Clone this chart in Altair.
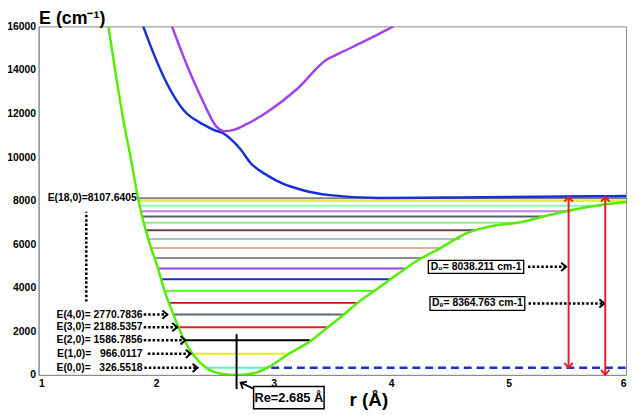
import altair as alt
import pandas as pd

# ---------------- data ----------------
# ground state potential (green)
g_r = [1.594, 1.655, 1.724, 1.793, 1.848, 1.931, 2.014, 2.070, 2.153, 2.235, 2.318,
       2.429, 2.567, 2.685, 2.843, 2.982, 3.134, 3.313, 3.465, 3.589, 3.728, 3.866,
       4.004, 4.115, 4.226, 4.42, 4.64, 4.85, 5.11, 5.33, 5.55, 5.83, 6.0]
g_E = [16000, 13867, 11633, 9698, 8058, 6270, 4929, 3888, 2695, 1654, 907,
       313, 40, 0, 89, 433, 983, 1550, 2203, 2726, 3365, 3888,
       4430, 4850, 5250, 5823, 6494, 6823, 7016, 7316, 7584, 7834, 7941]
# excited state (blue)
b_r = [1.89, 1.99, 2.09, 2.235, 2.40, 2.50, 2.56, 2.64, 2.72, 2.80, 2.95, 3.07,
       3.25, 3.48, 3.89, 4.45, 5.0, 5.72, 6.0]
b_E = [16000, 14600, 13400, 12150, 11500, 11230, 11120, 10800, 10350, 9750, 9150,
       8800, 8480, 8254, 8120, 8140, 8170, 8200, 8210]
# excited state (purple)
p_r = [2.135, 2.26, 2.40, 2.51, 2.58, 2.66, 2.76, 2.95, 3.20, 3.45, 3.56, 3.76, 4.02]
p_E = [16000, 14250, 12550, 11420, 11186, 11250, 11485, 12080, 13125, 14466, 14761,
       15284, 16000]

# vibrational levels v = 0..18
lv_E = [326.55, 966.01, 1586.79, 2188.54, 2770.78, 3307, 3857, 4393, 4885, 5363,
        5823, 6243, 6645, 6985, 7271, 7508, 7762, 7986, 8107.64]
lv_left = [2.43, 2.32, 2.24, 2.19, 2.15, 2.105, 2.07, 2.035, 2.01, 1.985, 1.955,
           1.935, 1.915, 1.9, 1.888, 1.876, 1.864, 1.853, 1.845]
lv_right = [2.96, 3.13, 3.31, 3.46, 3.595, 3.714, 3.852, 3.996, 4.115, 4.267, 4.419,
            4.59, 4.715, 5.055, 5.29, 5.53, 5.8, 6.0, 6.0]
lv_colors = ["#5ef2c4", "#e6ec1c", "#000000", "#e8201c", "#5a6878", "#c01820",
             "#4cf01a", "#1030c8", "#a040e0", "#8c8c8c", "#dcb090", "#b4bcc4",
             "#6c4050", "#90ec90", "#5c5c6c", "#c080f0", "#90f0d0", "#e4f040", "#808080"]

# left labels
lab_text = ["E(4,0)= 2770.7836", "E(3,0)= 2188.5357", "E(2,0)= 1586.7856",
            "E(1,0)=\u00a0\u00a0\u00a0966.0117", "E(0,0)=\u00a0\u00a0\u00a0326.5518"]
lab_E = [2770.78, 2188.54, 1586.79, 966.01, 326.55]
lab_r = [1.885, 1.885, 1.885, 1.885, 1.885]
arr_r1 = [1.895, 1.895, 1.895, 1.93, 1.90]
arr_r2 = [2.096, 2.18, 2.25, 2.295, 2.353]

top_text = ["E(18,0)=8107.6405"]
top_r = [1.835]
top_E = [8107.64]
dots_r = [1.406]
dots_E1 = [3365]
dots_E2 = [7490]

# dissociation annotations
d_text = ["D\u2080= 8038.211 cm-1", "D\u2091= 8364.763 cm-1"]
d_r1 = [4.317, 4.331]
d_r2 = [5.129, 5.138]
d_E = [4960, 3280]
d_h = [300, 313]
d_arr1 = [5.165, 5.17]
d_arr2 = [5.49, 5.815]
red_r = [5.511, 5.823]
red_lo = [326.55, 0]
red_hi = [8180, 8180]
dash_r1 = [2.98]
dash_r2 = [6.0]
dash_E = [326.55]

# equilibrium distance
re_r = [2.685]
re_E1 = [1870]
re_E2 = [-650]
re_text = ["Re=2.685 \u00c5"]
re_box_r = [2.83, 3.43]
re_box_E = [-536, -1551]
re_arr_r = [2.826, 2.719]
re_arr_E = [-626, -357]

# ---------------- chart ----------------
FONT = "Liberation Sans"
xs = alt.Scale(domain=[1, 6], nice=False, zero=False)
ys = alt.Scale(domain=[0, 16000], nice=False, zero=False)

x_axis = alt.Axis(values=[1, 2, 3, 4, 5, 6], format="d", grid=False, ticks=False,
                  domainColor="#8a8a8a", labelFont=FONT, labelFontWeight="bold",
                  labelFontSize=10.5, labelColor="black", labelPadding=4,
                  title="r (\u00c5)", titleFont=FONT, titleFontSize=19,
                  titleFontWeight="bold", titleColor="black", titleX=334, titleY=31,
                  titleBaseline="alphabetic")
y_axis = alt.Axis(values=list(range(0, 16001, 2000)), format="d", grid=False,
                  ticks=False, domainColor="#8a8a8a", labelFont=FONT,
                  labelFontWeight="bold", labelFontSize=10.5, labelColor="black",
                  labelPadding=3, title="E (cm\u207b\u00b9)", titleFont=FONT,
                  titleFontSize=18, titleFontWeight="bold", titleColor="black",
                  titleAngle=0, titleAlign="left", titleBaseline="alphabetic",
                  titleX=0, titleY=-3)


def X(f):
    return alt.X(f, type="quantitative", scale=xs, axis=x_axis)


def Y(f):
    return alt.Y(f, type="quantitative", scale=ys, axis=y_axis)


CHEV = "M-1.2,-1L0,0L-1.2,1"

curves = pd.concat([
    pd.DataFrame({"r": g_r, "E": g_E, "c": "#55ee00", "k": "g"}),
    pd.DataFrame({"r": b_r, "E": b_E, "c": "#1a2fd6", "k": "b"}),
    pd.DataFrame({"r": p_r, "E": p_E, "c": "#a040f0", "k": "p"}),
])
curve_layer = alt.Chart(curves).mark_line(strokeWidth=2.5, clip=True, interpolate="monotone").encode(
    x=X("r"), y=Y("E"), color=alt.Color("c:N", scale=None), detail="k:N")

levels = pd.DataFrame({"r1": lv_left, "r2": lv_right, "E": lv_E, "c": lv_colors})
level_layer = alt.Chart(levels).mark_rule(strokeWidth=2).encode(
    x=X("r1"), x2="r2", y=Y("E"), color=alt.Color("c:N", scale=None))

dash_layer = alt.Chart(pd.DataFrame({"r1": dash_r1, "r2": dash_r2, "E": dash_E})).mark_rule(
    strokeWidth=2.5, strokeDash=[8, 5], color="#1a2fd6").encode(x=X("r1"), x2="r2", y=Y("E"))

re_line = alt.Chart(pd.DataFrame({"r": re_r, "E1": re_E1, "E2": re_E2})).mark_rule(
    strokeWidth=2, color="black", clip=False).encode(x=X("r"), y=Y("E1"), y2="E2")

dots_layer = alt.Chart(pd.DataFrame({"r": dots_r, "E1": dots_E1, "E2": dots_E2})).mark_rule(
    strokeWidth=2.5, strokeDash=[2.5, 2], color="black").encode(x=X("r"), y=Y("E1"), y2="E2")

labs = pd.DataFrame({"t": lab_text, "E": lab_E, "r": lab_r, "r1": arr_r1, "r2": arr_r2})
lab_text_layer = alt.Chart(labs).mark_text(align="right", baseline="middle", font=FONT,
                                           fontWeight="bold", fontSize=10.5, color="black").encode(
    x=X("r"), y=Y("E"), text="t:N")
lab_arrow_layer = alt.Chart(labs).mark_rule(strokeWidth=2.5, strokeDash=[2.5, 2], color="black").encode(
    x=X("r1"), x2="r2", y=Y("E"))
lab_head_layer = alt.Chart(labs).mark_point(shape=CHEV, filled=False, size=70, strokeWidth=2,
                                            opacity=1, color="black").encode(x=X("r2"), y=Y("E"))

top_layer = alt.Chart(pd.DataFrame({"t": top_text, "r": top_r, "E": top_E})).mark_text(
    align="right", baseline="middle", font=FONT, fontWeight="bold", fontSize=10.5,
    color="black").encode(x=X("r"), y=Y("E"), text="t:N")

dd = pd.DataFrame({"t": d_text, "r1": d_r1, "r2": d_r2, "E": d_E,
                   "lo": [e - h for e, h in zip(d_E, d_h)], "hi": [e + h for e, h in zip(d_E, d_h)],
                   "rc": [(a + b) / 2 for a, b in zip(d_r1, d_r2)], "a1": d_arr1, "a2": d_arr2})
d_box = alt.Chart(dd).mark_rect(fill="white", stroke="black", strokeWidth=1.3).encode(
    x=X("r1"), x2="r2", y=Y("lo"), y2="hi")
d_txt = alt.Chart(dd).mark_text(align="center", baseline="middle", font=FONT, fontWeight="bold",
                                fontSize=10.5, color="black").encode(x=X("rc"), y=Y("E"), text="t:N")
d_arr = alt.Chart(dd).mark_rule(strokeWidth=2.5, strokeDash=[2.5, 2], color="black").encode(
    x=X("a1"), x2="a2", y=Y("E"))
d_head = alt.Chart(dd).mark_point(shape=CHEV, filled=False, size=70, strokeWidth=2, opacity=1,
                                  color="black").encode(x=X("a2"), y=Y("E"))

red = pd.DataFrame({"r": red_r, "lo": red_lo, "hi": red_hi})
RED = "#e0202c"
red_line = alt.Chart(red).mark_rule(strokeWidth=2, color=RED).encode(x=X("r"), y=Y("lo"), y2="hi")
red_up = alt.Chart(red).mark_point(shape=CHEV, filled=False, size=70, strokeWidth=2, opacity=1,
                                   color=RED, angle=270).encode(x=X("r"), y=Y("hi"))
red_dn = alt.Chart(red).mark_point(shape=CHEV, filled=False, size=70, strokeWidth=2, opacity=1,
                                   color=RED, angle=90, clip=False).encode(x=X("r"), y=Y("lo"))

re_box = alt.Chart(pd.DataFrame({"r1": [re_box_r[0]], "r2": [re_box_r[1]],
                                 "E1": [re_box_E[0]], "E2": [re_box_E[1]],
                                 "rc": [(re_box_r[0] + re_box_r[1]) / 2],
                                 "Ec": [(re_box_E[0] + re_box_E[1]) / 2], "t": re_text}))
re_rect = re_box.mark_rect(fill="white", stroke="black", strokeWidth=1.5, clip=False).encode(
    x=X("r1"), x2="r2", y=Y("E1"), y2="E2")
re_txt = re_box.mark_text(align="center", baseline="middle", font=FONT, fontWeight="bold",
                          fontSize=13, color="black").encode(x=X("rc"), y=Y("Ec"), text="t:N")
re_arrow = alt.Chart(pd.DataFrame({"r1": [re_arr_r[0]], "r2": [re_arr_r[1]],
                                   "E1": [re_arr_E[0]], "E2": [re_arr_E[1]]}))
re_arr_line = re_arrow.mark_rule(strokeWidth=1.8, color="black", clip=False).encode(
    x=X("r1"), x2="r2", y=Y("E1"), y2="E2")
re_arr_head = re_arrow.mark_point(shape=CHEV, filled=False, size=70, strokeWidth=1.8, opacity=1,
                                  color="black", angle=210, clip=False).encode(x=X("r2"), y=Y("E2"))

chart = alt.layer(
    level_layer, dash_layer, curve_layer, re_line, dots_layer,
    lab_arrow_layer, lab_head_layer, lab_text_layer, top_layer,
    d_box, d_txt, d_arr, d_head, red_line, red_up, red_dn,
    re_arr_line, re_arr_head, re_rect, re_txt,
).properties(
    width=595, height=353,
    autosize=alt.AutoSizeParams(type="none"),
    padding={"left": 31, "top": 16, "right": 4, "bottom": 38},
    background="white",
).configure_view(stroke="#8a8a8a", strokeWidth=1)

chart.save("out.html", embed_options={"renderer": "svg", "actions": False})
